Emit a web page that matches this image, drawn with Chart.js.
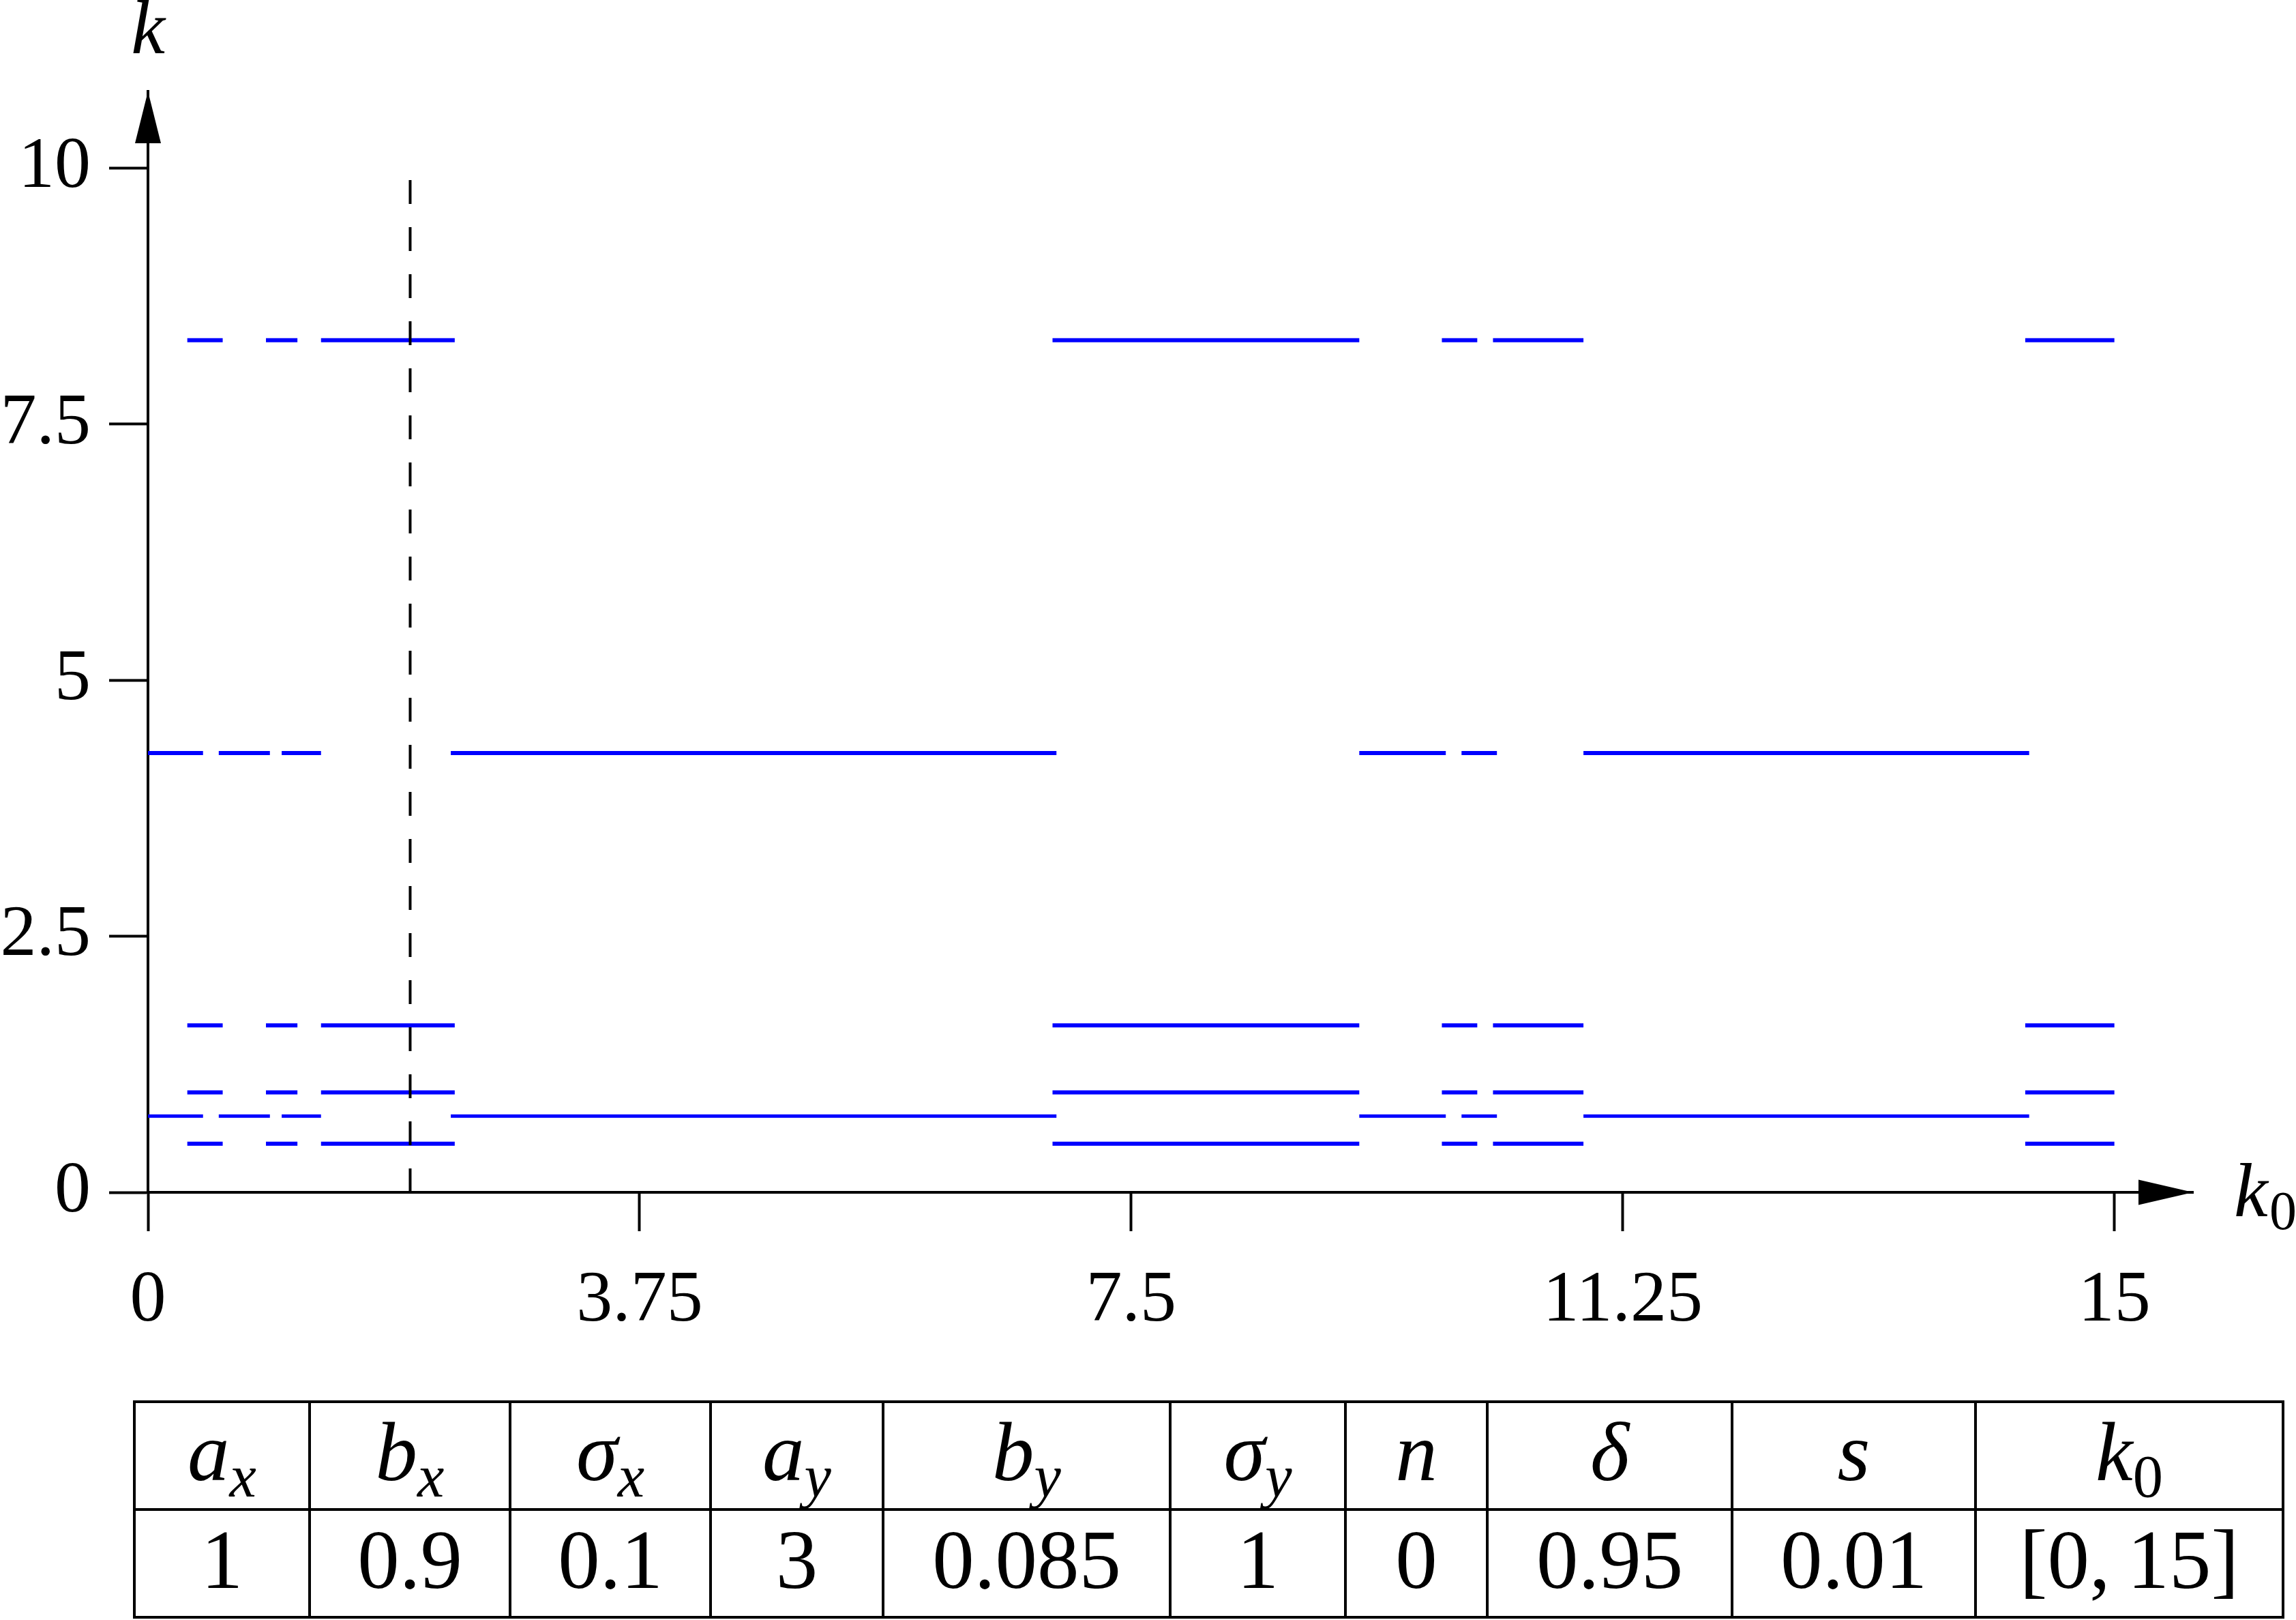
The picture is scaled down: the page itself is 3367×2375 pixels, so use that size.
<!DOCTYPE html>
<html>
<head>
<meta charset="utf-8">
<script src="https://cdn.jsdelivr.net/npm/chart.js@4.4.1/dist/chart.umd.min.js"></script>
<style>
  html, body { margin: 0; padding: 0; background: #fff; }
  #page { position: relative; width: 3367px; height: 2375px; overflow: hidden; }
  #plot { position: absolute; left: 0; top: 0; }
  #params {
    position: absolute; left: 195px; top: 2053px; width: 3151px; height: 320px;
    border-collapse: collapse; table-layout: fixed;
    font-family: 'Liberation Serif', serif; font-size: 123px; color: #000;
  }
  #params td {
    border: 4px solid #000; text-align: center; vertical-align: middle;
    padding: 0 0 12px 0; line-height: 1; white-space: nowrap;
  }
  #params i { font-style: italic; }
  #params .sub { font-size: 0.72em; position: relative; top: 0.28em; line-height: 0; }
</style>
</head>
<body>
<div id="page">
  <canvas id="plot" width="3367" height="1990"></canvas>
  <table id="params">
    <colgroup>
      <col style="width:257px"><col style="width:294px"><col style="width:294px">
      <col style="width:253px"><col style="width:421px"><col style="width:257px">
      <col style="width:208px"><col style="width:359px"><col style="width:357px">
      <col style="width:451px">
    </colgroup>
    <tr id="headRow"></tr>
    <tr id="valueRow"></tr>
  </table>
</div>
<script>
  'use strict';

  // axis ticks
  const xTicks = [0, 3.75, 7.5, 11.25, 15];
  const xTickLabels = ['0', '3.75', '7.5', '11.25', '15'];
  const yTicks = [0, 2.5, 5, 7.5, 10];
  const yTickLabels = ['0', '2.5', '5', '7.5', '10'];

  // levels present on the "upper" branch and their k0 intervals
  const upperLevels = [8.32, 1.63, 0.975, 0.475];
  const upperStarts = [0.30, 0.90, 1.32, 6.90, 9.87, 10.26, 14.32];
  const upperEnds = [0.57, 1.14, 2.34, 9.24, 10.14, 10.95, 15.00];

  // levels present on the "lower" branch and their k0 intervals
  const lowerLevels = [4.29, 0.745];
  const lowerStarts = [0.00, 0.54, 1.02, 2.31, 9.24, 10.02, 10.95];
  const lowerEnds = [0.42, 0.93, 1.32, 6.93, 9.90, 10.29, 14.35];

  // dashed marker
  const markerK0 = 2.0;
  const markerRange = [0, 10];

  // parameter table
  const paramNames = [
    ['a', 'x'], ['b', 'x'], ['\u03c3', 'x'], ['a', 'y'], ['b', 'y'],
    ['\u03c3', 'y'], ['n', ''], ['\u03b4', ''], ['s', ''], ['k', '0']
  ];
  const paramValues = ['1', '0.9', '0.1', '3', '0.085', '1', '0', '0.95', '0.01', '[0,\u200915]'];

  const BLUE = '#0000ff';
  const FONT = "'Liberation Serif', serif";

  function segmentDatasets(levels, starts, ends, widthFor) {
    const sets = [];
    levels.forEach(function(level, li) {
      starts.forEach(function(a, i) {
        sets.push({
          data: [{ x: a, y: level }, { x: ends[i], y: level }],
          borderColor: BLUE,
          borderWidth: widthFor(li),
          showLine: true,
          pointRadius: 0,
          borderCapStyle: 'butt'
        });
      });
    });
    return sets;
  }

  const datasets = [{
    data: [{ x: markerK0, y: markerRange[0] }, { x: markerK0, y: markerRange[1] }],
    borderColor: '#000',
    borderWidth: 4,
    borderDash: [35, 34],
    showLine: true,
    pointRadius: 0
  }].concat(
    segmentDatasets(upperLevels, upperStarts, upperEnds, function() { return 6; }),
    segmentDatasets(lowerLevels, lowerStarts, lowerEnds, function(li) { return li === 1 ? 5 : 6; })
  );

  // arrows and axis names
  const axisDecor = {
    id: 'axisDecor',
    afterDraw: function(chart) {
      const ctx = chart.ctx;
      const area = chart.chartArea;
      const left = area.left, bottom = area.bottom;
      ctx.save();
      ctx.fillStyle = '#000';
      // x arrow
      ctx.beginPath();
      ctx.moveTo(area.right, bottom);
      ctx.lineTo(area.right - 80, bottom - 18.5);
      ctx.lineTo(area.right - 80, bottom + 18.5);
      ctx.closePath();
      ctx.fill();
      // y arrow
      ctx.beginPath();
      ctx.moveTo(left, area.top);
      ctx.lineTo(left - 19, area.top + 76);
      ctx.lineTo(left + 19, area.top + 76);
      ctx.closePath();
      ctx.fill();
      // axis names
      ctx.textBaseline = 'alphabetic';
      ctx.textAlign = 'center';
      ctx.font = 'italic 112px ' + FONT;
      ctx.fillText('k', left, 78);
      ctx.textAlign = 'left';
      ctx.fillText('k', 3276, 1783);
      ctx.font = '80px ' + FONT;
      ctx.fillText('0', 3328, 1802);
      ctx.restore();
    }
  };

  const tickFont = { family: FONT, size: 106 };

  new Chart(document.getElementById('plot').getContext('2d'), {
    type: 'scatter',
    data: { datasets: datasets },
    plugins: [axisDecor],
    options: {
      responsive: false,
      animation: false,
      devicePixelRatio: 1,
      layout: { padding: { left: 0, right: 151, top: 134, bottom: 0 } },
      plugins: { legend: { display: false }, tooltip: { enabled: false } },
      scales: {
        x: {
          type: 'linear',
          min: 0,
          max: 15.6,
          afterBuildTicks: function(scale) {
            scale.ticks = xTicks.map(function(v) { return { value: v }; });
          },
          afterFit: function(scale) { scale.height = 242; },
          ticks: {
            color: '#000',
            font: tickFont,
            padding: 40,
            maxRotation: 0,
            autoSkip: false,
            callback: function(v) { return xTickLabels[xTicks.indexOf(v)]; }
          },
          grid: { drawOnChartArea: false, drawTicks: true, tickLength: 57, tickWidth: 4, tickColor: '#000' },
          border: { display: true, color: '#000', width: 4 }
        },
        y: {
          type: 'linear',
          min: 0,
          max: 10.75,
          afterBuildTicks: function(scale) {
            scale.ticks = yTicks.map(function(v) { return { value: v }; });
          },
          afterFit: function(scale) { scale.width = 217; },
          ticks: {
            color: '#000',
            font: tickFont,
            padding: 27,
            autoSkip: false,
            callback: function(v) { return yTickLabels[yTicks.indexOf(v)]; }
          },
          grid: { drawOnChartArea: false, drawTicks: true, tickLength: 57, tickWidth: 4, tickColor: '#000' },
          border: { display: true, color: '#000', width: 4 }
        }
      }
    }
  });

  // table
  const headRow = document.getElementById('headRow');
  const valueRow = document.getElementById('valueRow');
  paramNames.forEach(function(p) {
    const td = document.createElement('td');
    const base = document.createElement('i');
    base.textContent = p[0];
    td.appendChild(base);
    if (p[1]) {
      const sub = document.createElement(p[1] === '0' ? 'span' : 'i');
      sub.className = 'sub';
      sub.textContent = p[1];
      td.appendChild(sub);
    }
    headRow.appendChild(td);
  });
  paramValues.forEach(function(v) {
    const td = document.createElement('td');
    td.textContent = v;
    valueRow.appendChild(td);
  });
</script>
</body>
</html>
